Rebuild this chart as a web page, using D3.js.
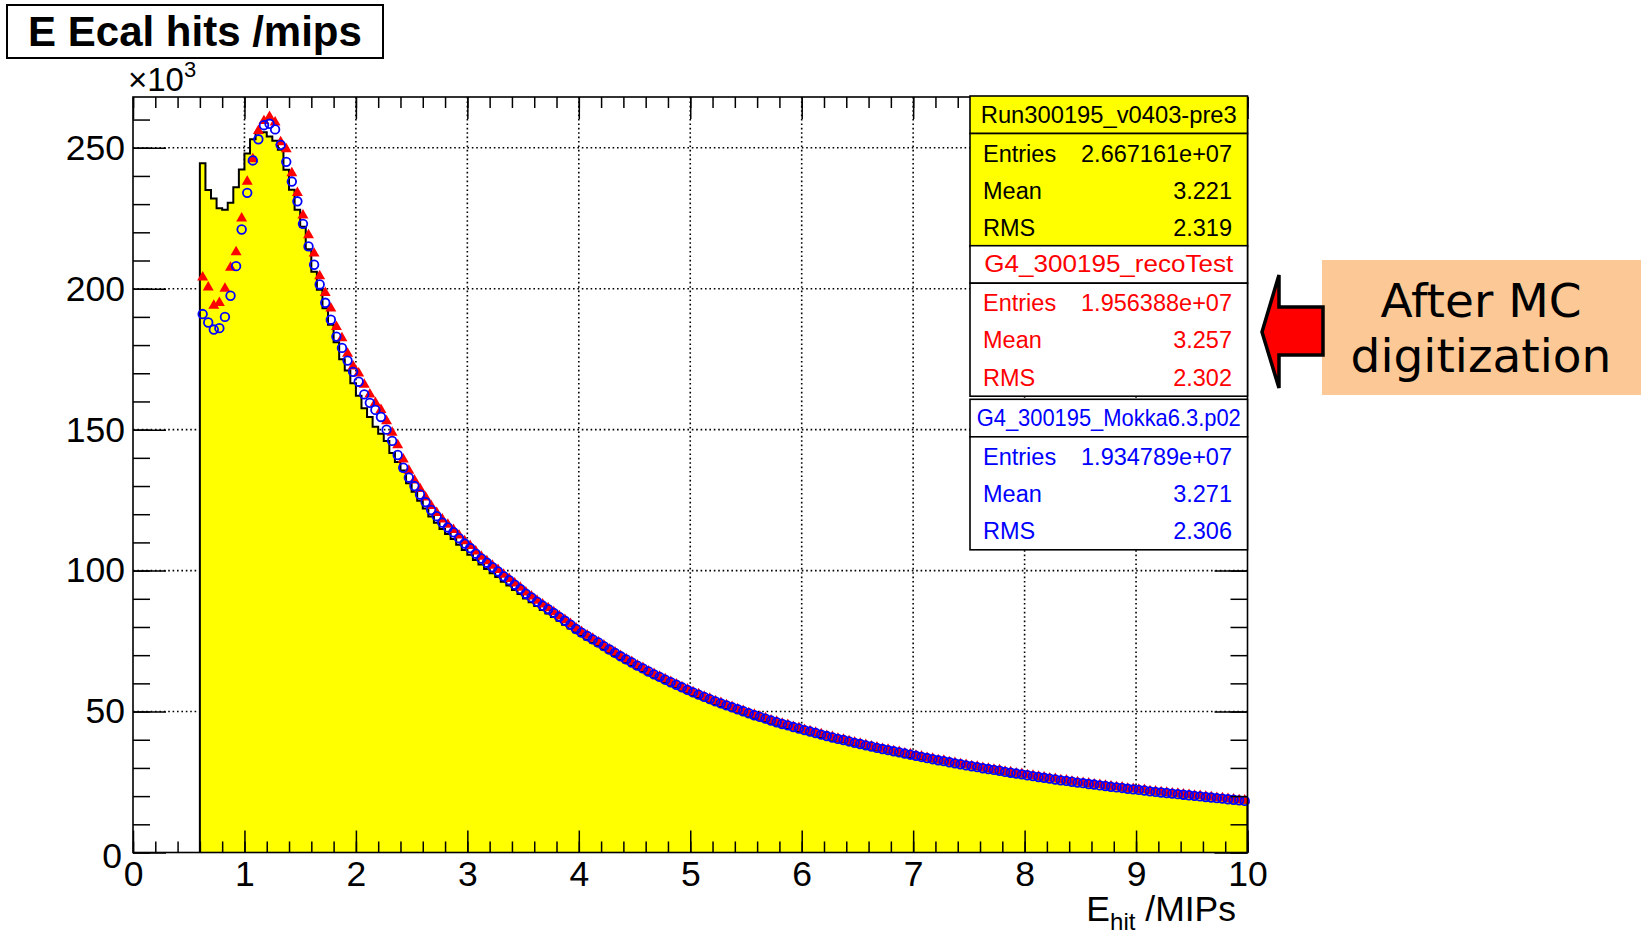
<!DOCTYPE html>
<html>
<head>
<meta charset="utf-8">
<style>
  body { margin: 0; background: #fff; }
  svg { display: block; }
  .axis path.domain { display: none; }
  .axis line { stroke: #000; stroke-width: 1.5; }
  .axis text { font-family: "Liberation Sans", Arial, Helvetica, sans-serif; font-size: 35.5px; fill: #000; }
</style>
</head>
<body>
<svg width="1641" height="934"></svg>
<script src="https://cdnjs.cloudflare.com/ajax/libs/d3/7.8.5/d3.min.js"></script>
<script>
// histogram binning (E_hit in MIPs)
const binStart = 0.6;
const binWidth = 0.05;

// counts per bin, in units of 10^3
// Run300195_v0403-pre3 (data, yellow filled histogram)
const runData = [
  244.5, 235, 232, 228.5, 228, 230.5, 236, 242.3, 248, 253, 255.5, 255.5, 254, 252.5, 249.3, 242.2, 235.1, 228,
  222, 214, 206, 199.6, 193.1, 187.2, 181, 175, 171, 166.5,
  162, 157.6, 154.5, 151, 148.5, 146, 141.7, 138.5, 135.5, 131, 128, 124.8, 122, 119.2, 117, 114.8, 113, 111.2, 109.2, 107.3,
  105.6, 103.8, 102.2, 100.6, 99.1, 97.7, 96, 94.7, 93.1, 91.7, 90.1, 88.8, 87.4, 86, 84.8, 83.5, 82.2, 80.8, 79.5, 78.1,
  76.8, 75.6, 74.5, 73.3, 72.1, 70.9, 69.7, 68.6, 67.4, 66.4, 65.3, 64.3, 63.2, 62.3, 61.3, 60.4, 59.5, 58.6, 57.7, 56.8,
  55.9, 55.1, 54.3, 53.5, 52.7, 52, 51.3, 50.6, 49.9, 49.2, 48.5, 47.8, 47.2, 46.6, 45.9, 45.3, 44.7, 44.2, 43.6, 43.1,
  42.6, 42.1, 41.6, 41, 40.5, 40, 39.5, 39.1, 38.6, 38.1, 37.7, 37.2, 36.8, 36.3, 35.9, 35.5, 35.1, 34.7, 34.3, 33.9,
  33.6, 33.2, 32.8, 32.4, 32, 31.7, 31.3, 30.9, 30.6, 30.2, 29.9, 29.6, 29.2, 28.9, 28.6, 28.3, 27.9, 27.6, 27.3, 27,
  26.8, 26.5, 26.2, 25.9, 25.6, 25.3, 25, 24.8, 24.5, 24.2, 24, 23.7, 23.5, 23.2, 23, 22.7, 22.5, 22.3, 22, 21.8,
  21.6, 21.4, 21.1, 20.9, 20.7, 20.5, 20.3, 20.1, 19.9, 19.7, 19.5, 19.3, 19.1, 18.9, 18.7, 18.5, 18.3, 18.1, 17.9, 17.7
];

// G4_300195_recoTest (red triangles)
const recoTest = [
  204, 200.5, 194, 195, 200, 207.5, 213, 225, 238, 246, 256, 259.5, 261, 259, 252, 249.5, 241, 234,
  226, 219, 212.5, 204.5, 198.5, 193, 186.5, 182.5, 177, 172.5,
  170, 166, 162.5, 159.5, 157, 153, 149, 144.5, 139.5, 135.5, 132, 129, 126, 123, 120.5, 118.2, 116.3, 114.5, 112.5, 110.5,
  108.8, 106.8, 105, 103.4, 101.8, 100.3, 98.6, 97.1, 95.5, 94, 92.3, 90.9, 89.4, 88, 86.7, 85.3, 83.9, 82.5, 81.1, 79.6,
  78.3, 77, 75.9, 74.6, 73.5, 72.1, 71, 69.8, 68.6, 67.6, 66.4, 65.5, 64.3, 63.4, 62.4, 61.5, 60.5, 59.7, 58.7, 57.9,
  56.9, 56.2, 55.3, 54.6, 53.7, 53.1, 52.3, 51.7, 50.9, 50.3, 49.5, 48.9, 48.2, 47.7, 46.9, 46.4, 45.7, 45.3, 44.6, 44.2,
  43.5, 43.1, 42.5, 42, 41.4, 41, 40.4, 40.1, 39.5, 39.1, 38.6, 38.2, 37.7, 37.3, 36.8, 36.5, 36, 35.7, 35.2, 34.9,
  34.4, 34.1, 33.6, 33.3, 32.8, 32.6, 32.1, 31.8, 31.4, 31.1, 30.7, 30.5, 30, 29.8, 29.4, 29.2, 28.7, 28.5, 28.1, 27.9,
  27.5, 27.3, 26.9, 26.7, 26.3, 26.1, 25.7, 25.6, 25.2, 25, 24.7, 24.5, 24.2, 24, 23.7, 23.5, 23.2, 23.1, 22.7, 22.6,
  22.3, 22.2, 21.8, 21.7, 21.4, 21.3, 21, 20.9, 20.6, 20.5, 20.2, 20.1, 19.8, 19.7, 19.4, 19.3, 19, 18.9, 18.6, 18.5
];

// G4_300195_Mokka6.3.p02 (blue open circles)
const mokka = [
  191, 188, 185.5, 186, 190, 197.5, 208, 221, 234, 245.5, 253, 258, 258.5, 256.5, 251, 245, 238, 231,
  223, 215, 208.5, 201.5, 195, 189, 183, 179, 174.5, 170.5,
  167, 162.5, 159.5, 157, 154.5, 150, 146, 141, 136.5, 133, 130, 127, 124.3, 121.5, 119.3, 117, 115.3, 113.6, 111.5, 109.6,
  108, 106, 104.3, 102.8, 101.2, 99.7, 98, 96.6, 95, 93.5, 91.8, 90.5, 89, 87.6, 86.3, 85, 83.6, 82.2, 80.8, 79.3,
  78, 76.8, 75.6, 74.5, 73.2, 72, 70.8, 69.6, 68.5, 67.4, 66.3, 65.3, 64.2, 63.2, 62.3, 61.3, 60.4, 59.5, 58.6, 57.7,
  56.8, 56, 55.2, 54.4, 53.6, 52.9, 52.2, 51.5, 50.8, 50.1, 49.4, 48.7, 48.1, 47.5, 46.8, 46.2, 45.6, 45.1, 44.5, 44,
  43.4, 42.9, 42.4, 41.8, 41.3, 40.8, 40.3, 39.9, 39.4, 38.9, 38.5, 38, 37.6, 37.1, 36.7, 36.3, 35.9, 35.5, 35.1, 34.7,
  34.3, 33.9, 33.5, 33.1, 32.7, 32.4, 32, 31.6, 31.3, 30.9, 30.6, 30.3, 29.9, 29.6, 29.3, 29, 28.6, 28.3, 28, 27.7,
  27.4, 27.1, 26.8, 26.5, 26.2, 25.9, 25.6, 25.4, 25.1, 24.8, 24.6, 24.3, 24.1, 23.8, 23.6, 23.3, 23.1, 22.9, 22.6, 22.4,
  22.2, 22, 21.7, 21.5, 21.3, 21.1, 20.9, 20.7, 20.5, 20.3, 20.1, 19.9, 19.7, 19.5, 19.3, 19.1, 18.9, 18.7, 18.5, 18.3
];

const xTicks = [0, 1, 2, 3, 4, 5, 6, 7, 8, 9, 10];
const yTicks = [0, 50, 100, 150, 200, 250];

// stats boxes
const statNames = ["Run300195_v0403-pre3", "G4_300195_recoTest", "G4_300195_Mokka6.3.p02"];
const statColors = ["#000000", "#ff0000", "#0000ff"];
const statEntries = ["2.667161e+07", "1.956388e+07", "1.934789e+07"];
const statMeans = ["3.221", "3.257", "3.271"];
const statRms = ["2.319", "2.302", "2.306"];

const svg = d3.select("svg");
const font = '"Liberation Sans", Arial, Helvetica, sans-serif';

const plot = {left: 133, right: 1247.5, top: 97, bottom: 852.5};

const x = d3.scaleLinear().domain([0, 10]).range([plot.left, plot.right]);
const y = d3.scaleLinear().domain([0, 268]).range([plot.bottom, plot.top]);

// dotted grid
const grid = svg.append("g")
  .attr("stroke", "#000")
  .attr("stroke-width", 1.6)
  .attr("stroke-dasharray", "1.6 2.8");

grid.selectAll(".gx")
  .data(xTicks.filter(d => d > 0 && d < 10))
  .enter().append("line")
  .attr("x1", d => x(d)).attr("x2", d => x(d))
  .attr("y1", plot.top).attr("y2", plot.bottom);

grid.selectAll(".gy")
  .data(yTicks.filter(d => d > 0))
  .enter().append("line")
  .attr("x1", plot.left).attr("x2", plot.right)
  .attr("y1", d => y(d)).attr("y2", d => y(d));

// histogram (step shape)
const steps = [{e: binStart, v: 0}];
runData.forEach((v, i) => steps.push({e: binStart + i * binWidth, v: v}));
steps.push({e: binStart + runData.length * binWidth, v: runData[runData.length - 1]});
steps.push({e: binStart + runData.length * binWidth, v: 0});

const area = d3.area()
  .curve(d3.curveStepAfter)
  .x(d => x(d.e))
  .y0(y(0))
  .y1(d => y(d.v));

const line = d3.line()
  .curve(d3.curveStepAfter)
  .x(d => x(d.e))
  .y(d => y(d.v));

svg.append("path")
  .datum(steps)
  .attr("d", area)
  .attr("fill", "#ffff00");

svg.append("path")
  .datum(steps)
  .attr("d", line)
  .attr("fill", "none")
  .attr("stroke", "#000")
  .attr("stroke-width", 2);

// markers
const centre = i => binStart + (i + 0.5) * binWidth;

svg.append("g").selectAll("path")
  .data(recoTest)
  .enter().append("path")
  .attr("transform", (d, i) => "translate(" + x(centre(i)) + "," + y(d) + ")")
  .attr("d", d3.symbol(d3.symbolTriangle, 52))
  .attr("fill", "#ff0000");

svg.append("g").selectAll("circle")
  .data(mokka)
  .enter().append("circle")
  .attr("cx", (d, i) => x(centre(i)))
  .attr("cy", d => y(d))
  .attr("r", 4.3)
  .attr("fill", "none")
  .attr("stroke", "#0000ff")
  .attr("stroke-width", 1.8);

// axes: major and minor ticks on all four sides, pointing in
const xMinor = d3.range(0, 10.001, 0.2);
const yMinor = d3.range(0, 268, 10);

svg.append("g").attr("class", "axis")
  .attr("transform", "translate(0," + plot.bottom + ")")
  .call(d3.axisBottom(x).tickValues(xMinor).tickSize(-11).tickFormat(""));
svg.append("g").attr("class", "axis")
  .attr("transform", "translate(0," + plot.bottom + ")")
  .call(d3.axisBottom(x).tickValues(xTicks).tickSize(-22).tickPadding(8).tickFormat(d3.format("d")));
svg.append("g").attr("class", "axis")
  .attr("transform", "translate(0," + plot.top + ")")
  .call(d3.axisTop(x).tickValues(xMinor).tickSize(-11).tickFormat(""));
svg.append("g").attr("class", "axis")
  .attr("transform", "translate(0," + plot.top + ")")
  .call(d3.axisTop(x).tickValues(xTicks).tickSize(-22).tickFormat(""));

svg.append("g").attr("class", "axis")
  .attr("transform", "translate(" + plot.left + ",0)")
  .call(d3.axisLeft(y).tickValues(yMinor).tickSize(-17).tickFormat(""));
const yLab = svg.append("g").attr("class", "axis")
  .attr("transform", "translate(" + plot.left + ",0)")
  .call(d3.axisLeft(y).tickValues(yTicks).tickSize(-33).tickPadding(8).tickFormat(d3.format("d")));
svg.append("g").attr("class", "axis")
  .attr("transform", "translate(" + plot.right + ",0)")
  .call(d3.axisRight(y).tickValues(yMinor).tickSize(-17).tickFormat(""));
svg.append("g").attr("class", "axis")
  .attr("transform", "translate(" + plot.right + ",0)")
  .call(d3.axisRight(y).tickValues(yTicks).tickSize(-33).tickFormat(""));

// the y "0" sits a bit left and low, as ROOT draws it
yLab.selectAll(".tick text").filter(d => d === 0).attr("x", -11).attr("dy", "0.42em");

// frame
svg.append("rect")
  .attr("x", plot.left).attr("y", plot.top)
  .attr("width", plot.right - plot.left).attr("height", plot.bottom - plot.top)
  .attr("fill", "none").attr("stroke", "#000").attr("stroke-width", 1.6);

// x10^3 multiplier
const mult = svg.append("text")
  .attr("x", 128).attr("y", 91)
  .attr("font-family", font).attr("font-size", 33);
mult.append("tspan").text("\u00d710");
mult.append("tspan").attr("dy", -14).attr("font-size", 22).text("3");

// x axis title
const xt = svg.append("text")
  .attr("x", 1236).attr("y", 921)
  .attr("text-anchor", "end")
  .attr("font-family", font).attr("font-size", 35.5);
xt.append("tspan").text("E");
xt.append("tspan").attr("dy", 9).attr("font-size", 24).text("hit");
xt.append("tspan").attr("dy", -9).text(" /MIPs");

// title box
svg.append("rect")
  .attr("x", 7).attr("y", 5).attr("width", 376).attr("height", 53)
  .attr("fill", "#fff").attr("stroke", "#000").attr("stroke-width", 2);
svg.append("text")
  .attr("x", 195).attr("y", 46)
  .attr("text-anchor", "middle")
  .attr("font-family", font).attr("font-size", 42).attr("font-weight", "bold")
  .text("E Ecal hits /mips");

// stats boxes
const boxX0 = 970, boxX1 = 1247.5;
const boxTops = [96, 245.7, 399.3];
const titleWidths = [256, 249, 264];
const titleH = 37.5, statH = 113;
const boxFill = ["#ffff00", "#ffffff", "#ffffff"];

statNames.forEach((name, i) => {
  const top = boxTops[i];
  const g = svg.append("g");
  g.append("rect")
    .attr("x", boxX0).attr("y", top).attr("width", boxX1 - boxX0).attr("height", titleH)
    .attr("fill", boxFill[i]).attr("stroke", "#000").attr("stroke-width", 1.6);
  g.append("rect")
    .attr("x", boxX0).attr("y", top + titleH).attr("width", boxX1 - boxX0).attr("height", statH)
    .attr("fill", boxFill[i]).attr("stroke", "#000").attr("stroke-width", 1.6);
  g.append("text")
    .attr("x", (boxX0 + boxX1) / 2).attr("y", top + 26.5)
    .attr("text-anchor", "middle")
    .attr("font-family", font).attr("font-size", 24)
    .attr("fill", statColors[i])
    .attr("textLength", titleWidths[i]).attr("lengthAdjust", "spacingAndGlyphs")
    .text(name);

  const rows = [["Entries", statEntries[i]], ["Mean", statMeans[i]], ["RMS", statRms[i]]];
  rows.forEach((r, j) => {
    const yy = top + titleH + 28 + j * 37.2;
    g.append("text")
      .attr("x", 983).attr("y", yy)
      .attr("font-family", font).attr("font-size", 23.5)
      .attr("fill", statColors[i]).text(r[0]);
    g.append("text")
      .attr("x", 1232).attr("y", yy)
      .attr("text-anchor", "end")
      .attr("font-family", font).attr("font-size", 23.5)
      .attr("fill", statColors[i]).text(r[1]);
  });
});

// annotation: arrow + label
svg.append("rect")
  .attr("x", 1322).attr("y", 260).attr("width", 320).attr("height", 135)
  .attr("fill", "#fcc996");

svg.append("polygon")
  .attr("points", [[1262, 332], [1279, 275], [1279, 307], [1323, 307], [1323, 355], [1279, 355], [1279, 388]].join(" "))
  .attr("fill", "#ff0000")
  .attr("stroke", "#000")
  .attr("stroke-width", 3.5)
  .attr("stroke-linejoin", "miter");

svg.append("text")
  .attr("x", 1481).attr("y", 317)
  .attr("text-anchor", "middle")
  .attr("font-family", '"DejaVu Sans", Verdana, sans-serif').attr("font-size", 47)
  .text("After MC");
svg.append("text")
  .attr("x", 1481).attr("y", 372)
  .attr("text-anchor", "middle")
  .attr("font-family", '"DejaVu Sans", Verdana, sans-serif').attr("font-size", 47)
  .text("digitization");
</script>
</body>
</html>
